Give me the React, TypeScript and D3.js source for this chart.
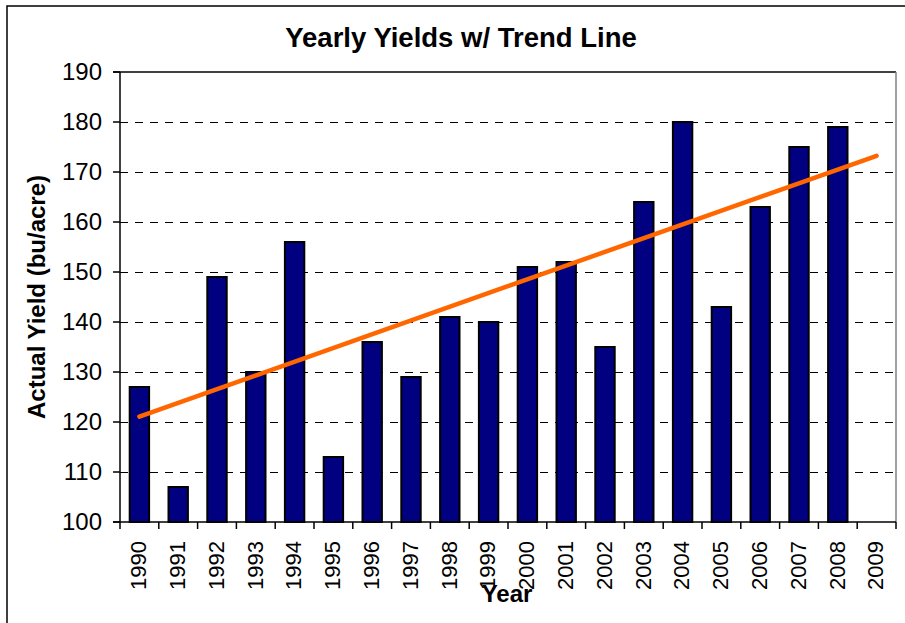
import React from "react";
import * as d3 from "d3";

const years = ["1990","1991","1992","1993","1994","1995","1996","1997","1998","1999","2000","2001","2002","2003","2004","2005","2006","2007","2008","2009"];
const yields: (number | null)[] = [127,107,149,130,156,113,136,129,141,140,151,152,135,164,180,143,163,175,179,null];
const yTicks = [100,110,120,130,140,150,160,170,180,190];

const W = 905, H = 623;
const M = { left: 120, top: 72, right: 896, bottom: 522 };
const FONT = "'Liberation Sans', Arial, sans-serif";

export default function App() {
  const x = d3.scaleBand<string>().domain(years).range([M.left, M.right]).paddingInner(0).paddingOuter(0);
  const y = d3.scaleLinear().domain([100, 190]).range([M.bottom, M.top]);
  const bw = x.bandwidth() * 0.5;

  // least-squares trend over observed years, extended over all categories
  const pts = yields.map((v, i) => ({ i, v })).filter(p => p.v !== null) as { i: number; v: number }[];
  const mx = d3.mean(pts, p => p.i)!;
  const my = d3.mean(pts, p => p.v)!;
  const slope = d3.sum(pts, p => (p.i - mx) * (p.v - my)) / d3.sum(pts, p => (p.i - mx) ** 2);
  const icpt = my - slope * mx;
  const trend = [0, years.length - 1].map(i => ({ xv: years[i], yv: icpt + slope * i }));
  const line = d3.line<{ xv: string; yv: number }>()
    .x(d => x(d.xv)! + x.bandwidth() / 2)
    .y(d => y(d.yv));

  return (
    <svg width={W} height={H} style={{ position: "absolute", left: 0, top: 0, background: "#fff" }} fontFamily={FONT}>
      <rect x={0} y={0} width={W} height={H} fill="#fff" />
      <rect x={7} y={6} width={1200} height={1200} fill="none" stroke="#000" strokeWidth={1.5} />
      <text x={461} y={47} textAnchor="middle" fontSize={27.5} fontWeight="bold">Yearly Yields w/ Trend Line</text>

      {yTicks.filter(t => t !== 100 && t !== 190).map(t => (
        <line key={"g" + t} x1={M.left} x2={M.right} y1={y(t) + 0.5} y2={y(t) + 0.5} stroke="#000" strokeWidth={1} strokeDasharray="8,7" />
      ))}
      <line x1={M.left - 7} x2={M.right} y1={M.top} y2={M.top} stroke="#000" strokeWidth={1.5} />
      <line x1={M.right} x2={M.right} y1={M.top} y2={M.bottom} stroke="#808080" strokeWidth={1.5} />

      {yields.map((v, i) => v === null ? null : (
        <rect key={"b" + i} x={x(years[i])! + (x.bandwidth() - bw) / 2} y={y(v)} width={bw} height={y(100) - y(v)}
          fill="#000080" stroke="#000" strokeWidth={2} />
      ))}

      <line x1={M.left} x2={M.left} y1={M.top} y2={M.bottom} stroke="#000" strokeWidth={1.5} />
      <line x1={M.left - 7} x2={M.right} y1={M.bottom} y2={M.bottom} stroke="#000" strokeWidth={1.5} />
      {yTicks.map(t => (
        <g key={"yt" + t}>
          <line x1={M.left - 7} x2={M.left} y1={y(t)} y2={y(t)} stroke="#000" strokeWidth={1.5} />
          <text x={102} y={y(t)} dy="0.35em" textAnchor="end" fontSize={24}>{t}</text>
        </g>
      ))}
      {[...years.map(yr => x(yr)!), M.right].map((px, i) => (
        <line key={"xt" + i} x1={px} x2={px} y1={M.bottom} y2={M.bottom + 7} stroke="#000" strokeWidth={1.5} />
      ))}
      {years.map(yr => (
        <text key={"xl" + yr} transform={`translate(${x(yr)! + x.bandwidth() / 2 - 1},541) rotate(-90)`}
          dy="0.35em" textAnchor="end" fontSize={22}>{yr}</text>
      ))}

      <path d={line(trend)!} fill="none" stroke="#FF6600" strokeWidth={4.5} strokeLinecap="round" />

      <text x={507} y={602} textAnchor="middle" fontSize={24} fontWeight="bold">Year</text>
      <text transform={`translate(45,${(M.top + M.bottom) / 2}) rotate(-90)`} textAnchor="middle" fontSize={24} fontWeight="bold">Actual Yield (bu/acre)</text>
    </svg>
  );
}
